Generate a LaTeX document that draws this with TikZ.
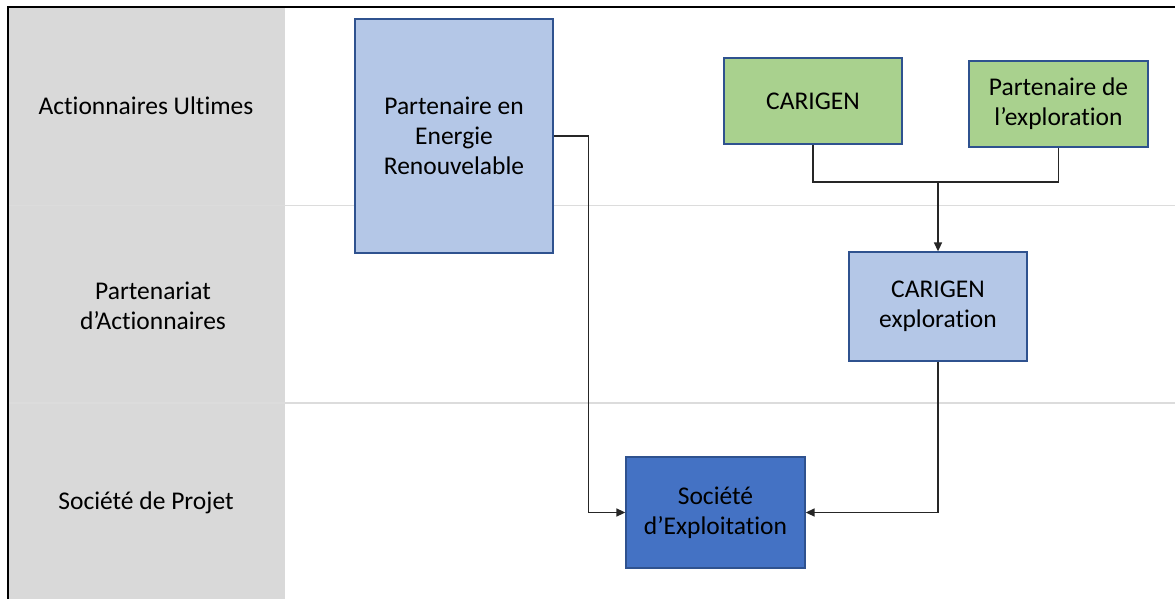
\documentclass[tikz,border=0pt]{standalone}
\usepackage{fontspec}
\setmainfont[Ligatures=CommonOff]{Carlito}
\usetikzlibrary{arrows.meta}
\definecolor{bandgray}{HTML}{D9D9D9}
\definecolor{lightblue}{HTML}{B4C7E7}
\definecolor{lightgreen}{HTML}{A9D18E}
\definecolor{darkblue}{HTML}{4472C4}
\definecolor{boxline}{HTML}{2F528F}
\definecolor{linkgray}{HTML}{262626}
\definecolor{rulegray}{HTML}{DCDCDC}

\begin{document}
\begin{tikzpicture}[x=1pt, y=-1pt, font=\fontsize{25.5}{30}\selectfont,
  entity/.style={rectangle, draw=boxline, line width=1.3pt, align=center, inner sep=2pt},
  link/.style={draw=linkgray, line width=1.5pt},
  arr/.style={link, -{Triangle[length=9pt,width=8pt]}}]
\useasboundingbox (0,0) rectangle (1175,599);

% Level band
\fill[bandgray] (8,7) rectangle (285,599);
\draw[rulegray, line width=1.3pt] (8,205.5) -- (1175,205.5);
\draw[rulegray, line width=1.3pt] (8,403) -- (1175,403);
\draw[black, line width=2pt] (8,599) -- (8,7) -- (1175,7);

\node[align=center] (lvl1) at (146,106) {Actionnaires Ultimes};
\node[align=center] (lvl2) at (153,306) {Partenariat\\d’Actionnaires};
\node[align=center] (lvl3) at (146,503) {Société de Projet};

% Entities
\node[entity, fill=lightblue, minimum width=198, minimum height=234] (per) at (454,136) {Partenaire en\\Energie\\Renouvelable};
\node[entity, fill=lightgreen, minimum width=178, minimum height=86] (car) at (813,101) {CARIGEN};
\node[entity, fill=lightgreen, minimum width=179, minimum height=86] (pexp) at (1058.5,104) {Partenaire de\\l’exploration};
\node[entity, fill=lightblue, minimum width=178, minimum height=109] (cexp) at (938,306.5) {CARIGEN\\exploration};
\node[entity, fill=darkblue, minimum width=179, minimum height=111] (soc) at (715.5,512.5) {Société\\d’Exploitation};

% Links
\coordinate (fork) at (938,182);
\draw[link] (car.south) |- (fork) -| (pexp.south);
\draw[arr] (fork) -- (cexp.north);
\draw[arr] (per.east) -| ++(35,0) |- (soc.west);
\draw[arr] (cexp.south) |- (soc.east);
\end{tikzpicture}
\end{document}
